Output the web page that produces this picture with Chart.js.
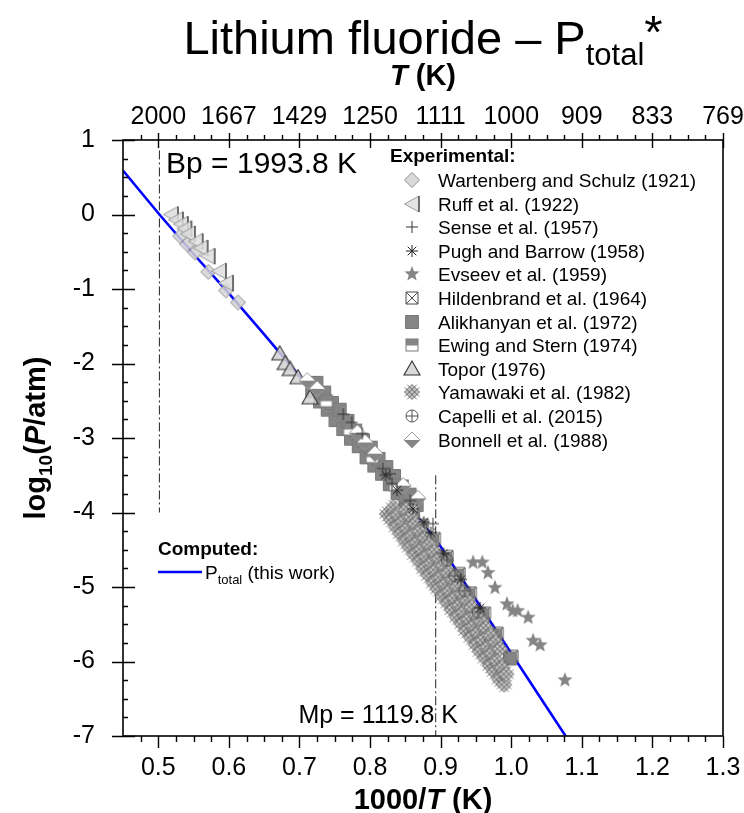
<!DOCTYPE html>
<html>
<head>
<meta charset="utf-8">
<script src="https://cdn.jsdelivr.net/npm/chart.js@4.4.1/dist/chart.umd.min.js"></script>
<style>
  html, body { margin: 0; padding: 0; background: #fff; }
  #wrap { width: 744px; height: 813px; }
</style>
</head>
<body>
<div id="wrap"><canvas id="c" width="744" height="813"></canvas></div>
<script>
// ---- axes ----
const invTTicks = [0.5, 0.6, 0.7, 0.8, 0.9, 1.0, 1.1, 1.2, 1.3];
const invTTickLabels = ['0.5', '0.6', '0.7', '0.8', '0.9', '1.0', '1.1', '1.2', '1.3'];
const tempTickLabels = ['2000', '1667', '1429', '1250', '1111', '1000', '909', '833', '769'];
const logPTicks = [1, 0, -1, -2, -3, -4, -5, -6, -7];

// ---- phase transitions (K) ----
const boilingPointK = 1993.8;
const meltingPointK = 1119.8;

// ---- computed total pressure ----
const computedInvT = [0.45, 0.5016, 0.55, 0.60, 0.65, 0.70, 0.75, 0.80, 0.85, 0.893, 0.95, 1.00, 1.05, 1.077];
const computedLogP = [0.59, 0.00, -0.53, -1.06, -1.61, -2.17, -2.74, -3.31, -3.87, -4.36, -5.17, -5.89, -6.61, -7.00];

// ---- experimental series: 1000/T and log10(P/atm) ----
const wartenbergInvT = [0.531, 0.541, 0.552, 0.571, 0.596, 0.613];
const wartenbergLogP = [-0.29, -0.40, -0.51, -0.77, -1.02, -1.18];

const ruffInvT = [0.518, 0.525, 0.532, 0.537, 0.542, 0.553, 0.560, 0.570, 0.586, 0.596];
const ruffLogP = [0.00, -0.07, -0.13, -0.19, -0.26, -0.36, -0.45, -0.56, -0.76, -0.92];

const senseInvT = [0.762, 0.774, 0.789, 0.818, 0.828, 0.831, 0.857, 0.889];
const senseLogP = [-2.68, -2.79, -2.94, -3.41, -3.48, -3.61, -3.84, -4.15];

const pughInvT = [0.822, 0.838, 0.861, 0.876, 0.886, 0.904, 0.929, 0.956];
const pughLogP = [-3.50, -3.70, -3.95, -4.13, -4.27, -4.55, -4.90, -5.28];

const evseevInvT = [0.946, 0.959, 0.967, 0.977, 0.994, 1.002, 1.009, 1.024, 1.031, 1.041, 1.076];
const evseevLogP = [-4.67, -4.67, -4.81, -5.01, -5.23, -5.32, -5.32, -5.41, -5.72, -5.78, -6.25];

const hildenbrandInvT = [0.781, 0.832, 0.874, 0.891, 0.909, 0.926, 0.942, 0.962, 0.980, 1.001];
const hildenbrandLogP = [-3.01, -3.57, -4.17, -4.35, -4.59, -4.82, -5.08, -5.35, -5.62, -5.93];

const alikhanyanInvT = [0.718, 0.724, 0.729, 0.735, 0.740, 0.746, 0.751, 0.757, 0.762, 0.768,
                        0.773, 0.779, 0.784, 0.790, 0.795, 0.801, 0.806, 0.812, 0.817, 0.823,
                        0.828, 0.834, 0.839, 0.845, 0.850, 0.856, 0.861, 0.866,
                        0.871, 0.888, 0.906, 0.923, 0.939, 0.959, 0.977, 0.998];
const alikhanyanLogP = [-2.37, -2.26, -2.51, -2.39, -2.62, -2.53, -2.76, -2.62, -2.88, -2.77,
                        -3.01, -2.90, -3.11, -3.03, -3.26, -3.13, -3.37, -3.28, -3.48, -3.39,
                        -3.62, -3.51, -3.74, -3.65, -3.85, -3.76, -3.99, -3.90,
                        -4.20, -4.38, -4.62, -4.85, -5.11, -5.38, -5.65, -5.96];

const ewingInvT = [0.738, 0.771, 0.803, 0.836, 0.858];
const ewingLogP = [-2.50, -2.88, -3.25, -3.63, -3.90];

const toporInvT = [0.672, 0.680, 0.687, 0.698, 0.715];
const toporLogP = [-1.87, -2.00, -2.08, -2.19, -2.46];

const yamawakiInvT = [0.824, 0.830, 0.837, 0.843, 0.850, 0.856, 0.863, 0.870, 0.876, 0.883,
                      0.890, 0.896, 0.903, 0.910, 0.916, 0.923, 0.930, 0.936, 0.943, 0.950,
                      0.956, 0.963, 0.970, 0.976, 0.983, 0.990,
                      0.833, 0.840, 0.847, 0.853, 0.860, 0.867, 0.873, 0.880, 0.887, 0.893,
                      0.900, 0.907, 0.913, 0.920, 0.927, 0.933, 0.940, 0.947, 0.953, 0.960,
                      0.967, 0.973, 0.980, 0.987, 0.993,
                      0.851, 0.858, 0.864, 0.871, 0.878, 0.884, 0.891, 0.898, 0.904, 0.911,
                      0.918, 0.924, 0.931, 0.938, 0.944, 0.951, 0.958, 0.964, 0.971, 0.978,
                      0.984];
const yamawakiLogP = [-4.02, -4.10, -4.20, -4.29, -4.39, -4.47, -4.57, -4.66, -4.76, -4.85,
                      -4.95, -5.03, -5.13, -5.22, -5.31, -5.41, -5.50, -5.59, -5.68, -5.78,
                      -5.87, -5.96, -6.06, -6.14, -6.24, -6.31,
                      -3.93, -4.03, -4.12, -4.21, -4.31, -4.40, -4.49, -4.59, -4.68, -4.77,
                      -4.87, -4.96, -5.05, -5.15, -5.24, -5.33, -5.43, -5.52, -5.61, -5.71,
                      -5.80, -5.89, -5.99, -6.08, -6.17,
                      -3.96, -4.06, -4.15, -4.25, -4.34, -4.43, -4.53, -4.62, -4.71, -4.81,
                      -4.90, -4.99, -5.09, -5.18, -5.27, -5.37, -5.46, -5.55, -5.65, -5.74,
                      -5.83];

const capelliInvT = [0.909, 0.920, 0.934, 0.953];
const capelliLogP = [-4.64, -4.85, -5.05, -5.34];

const bonnellInvT = [0.711, 0.725, 0.782, 0.793, 0.807, 0.847, 0.868];
const bonnellLogP = [-2.23, -2.34, -2.93, -3.06, -3.21, -3.64, -3.81];

const sourceNames = [
  'Wartenberg and Schulz (1921)', 'Ruff et al. (1922)', 'Sense et al. (1957)',
  'Pugh and Barrow (1958)', 'Evseev et al. (1959)', 'Hildenbrand et al. (1964)',
  'Alikhanyan et al. (1972)', 'Ewing and Stern (1974)', 'Topor (1976)',
  'Yamawaki et al. (1982)', 'Capelli et al. (2015)', 'Bonnell et al. (1988)'
];

const FAM = '"Liberation Sans", Arial, Helvetica, sans-serif';

function pts(xs, ys) { return xs.map((x, i) => ({ x: x, y: ys[i] })); }

// ---- marker glyphs ----
function glyph(size, paint) {
  const c = document.createElement('canvas');
  c.width = size; c.height = size;
  const g = c.getContext('2d');
  g.translate(size / 2, size / 2);
  paint(g);
  return c;
}
function poly(g, p) {
  g.beginPath();
  g.moveTo(p[0][0], p[0][1]);
  for (let i = 1; i < p.length; i++) g.lineTo(p[i][0], p[i][1]);
  g.closePath();
}
const GREY = '#858585';

const glyphs = [
  // Wartenberg: light diamond
  glyph(18, g => {
    poly(g, [[0, -7.5], [7.5, 0], [0, 7.5], [-7.5, 0]]);
    g.fillStyle = 'rgba(212,212,212,0.85)'; g.fill();
    g.strokeStyle = '#8c8c8c'; g.lineWidth = 1; g.stroke();
  }),
  // Ruff: left-pointing triangle
  glyph(20, g => {
    poly(g, [[-7.5, 0], [7, -8], [7, 8]]);
    g.fillStyle = 'rgba(222,222,222,0.85)'; g.fill();
    g.strokeStyle = '#9a9a9a'; g.lineWidth = 1; g.stroke();
    g.beginPath(); g.moveTo(7, -8); g.lineTo(7, 8);
    g.strokeStyle = '#333'; g.lineWidth = 1.2; g.stroke();
  }),
  // Sense: plus
  glyph(14, g => {
    g.beginPath(); g.moveTo(-6, 0); g.lineTo(6, 0); g.moveTo(0, -6); g.lineTo(0, 6);
    g.strokeStyle = '#333'; g.lineWidth = 1; g.stroke();
  }),
  // Pugh: asterisk
  glyph(14, g => {
    g.beginPath();
    g.moveTo(-6, 0); g.lineTo(6, 0); g.moveTo(0, -6); g.lineTo(0, 6);
    g.moveTo(-4.3, -4.3); g.lineTo(4.3, 4.3); g.moveTo(-4.3, 4.3); g.lineTo(4.3, -4.3);
    g.strokeStyle = '#222'; g.lineWidth = 1; g.stroke();
  }),
  // Evseev: filled star
  glyph(18, g => {
    const p = [];
    for (let k = 0; k < 10; k++) {
      const r = k % 2 ? 3.4 : 8;
      const a = -Math.PI / 2 + k * Math.PI / 5;
      p.push([r * Math.cos(a), r * Math.sin(a)]);
    }
    poly(g, p); g.fillStyle = GREY; g.fill();
  }),
  // Hildenbrand: boxed X
  glyph(16, g => {
    g.beginPath(); g.rect(-6, -6, 12, 12);
    g.moveTo(-6, -6); g.lineTo(6, 6); g.moveTo(-6, 6); g.lineTo(6, -6);
    g.strokeStyle = '#4a4a4a'; g.lineWidth = 1; g.stroke();
  }),
  // Alikhanyan: filled square
  glyph(16, g => {
    g.beginPath(); g.rect(-6.5, -6.5, 13, 13);
    g.fillStyle = GREY; g.fill(); g.strokeStyle = '#7a7a7a'; g.lineWidth = 1; g.stroke();
  }),
  // Ewing and Stern: half-filled square
  glyph(16, g => {
    g.fillStyle = '#fff'; g.fillRect(-6, -6, 12, 12);
    g.fillStyle = GREY; g.fillRect(-6, -6, 12, 6.5);
    g.strokeStyle = '#7a7a7a'; g.lineWidth = 1; g.strokeRect(-6, -6, 12, 12);
  }),
  // Topor: up triangle
  glyph(18, g => {
    poly(g, [[0, -8], [8, 6], [-8, 6]]);
    g.fillStyle = 'rgba(210,210,210,0.85)'; g.fill();
    g.strokeStyle = '#333'; g.lineWidth = 1.1; g.stroke();
  }),
  // Yamawaki: cross-hatched diamond
  glyph(22, g => {
    poly(g, [[0, -7.5], [7.5, 0], [0, 7.5], [-7.5, 0]]);
    g.fillStyle = '#c2c2c2'; g.fill();
    g.strokeStyle = '#707070'; g.lineWidth = 1; g.stroke();
    g.save(); g.rotate(Math.PI / 4);
    g.beginPath();
    for (const u of [-1.8, 1.8]) {
      g.moveTo(u, -8.5); g.lineTo(u, 8.5);
      g.moveTo(-8.5, u); g.lineTo(8.5, u);
    }
    g.strokeStyle = '#4a4a4a'; g.lineWidth = 0.7; g.stroke();
    g.restore();
  }),
  // Capelli: circled plus
  glyph(16, g => {
    g.beginPath(); g.arc(0, 0, 6, 0, Math.PI * 2);
    g.moveTo(-6, 0); g.lineTo(6, 0); g.moveTo(0, -6); g.lineTo(0, 6);
    g.strokeStyle = '#555'; g.lineWidth = 1; g.stroke();
  }),
  // Bonnell: diamond, white top / grey bottom
  glyph(18, g => {
    poly(g, [[-8, 0], [0, -8], [8, 0]]); g.fillStyle = '#fff'; g.fill();
    poly(g, [[-8, 0], [8, 0], [0, 8]]); g.fillStyle = GREY; g.fill();
    poly(g, [[0, -8], [8, 0], [0, 8], [-8, 0]]);
    g.strokeStyle = '#9a9a9a'; g.lineWidth = 1; g.stroke();
  })
];

const seriesInvT = [wartenbergInvT, ruffInvT, senseInvT, pughInvT, evseevInvT, hildenbrandInvT,
                    alikhanyanInvT, ewingInvT, toporInvT, yamawakiInvT, capelliInvT, bonnellInvT];
const seriesLogP = [wartenbergLogP, ruffLogP, senseLogP, pughLogP, evseevLogP, hildenbrandLogP,
                    alikhanyanLogP, ewingLogP, toporLogP, yamawakiLogP, capelliLogP, bonnellLogP];
// stacking: lower order is painted later (on top)
const seriesOrder = [12, 11, 1, 1, 8, 7, 6, 5, 4, 3, 2, 2];

const datasets = [];
datasets.push({
  label: 'Ptotal (this work)', data: pts(computedInvT, computedLogP),
  showLine: true, borderColor: '#0000ff', borderWidth: 2.6, pointRadius: 0, order: 30
});
const bpX = 1000 / boilingPointK, mpX = 1000 / meltingPointK;
datasets.push({
  label: 'Bp', data: [{ x: bpX, y: 0.86 }, { x: bpX, y: -4.0 }],
  showLine: true, borderColor: '#222', borderWidth: 1, borderDash: [9, 3, 2, 3], pointRadius: 0, order: 31
});
datasets.push({
  label: 'Mp', data: [{ x: mpX, y: -3.5 }, { x: mpX, y: -7 }],
  showLine: true, borderColor: '#222', borderWidth: 1, borderDash: [9, 3, 2, 3], pointRadius: 0, order: 31
});
sourceNames.forEach((name, i) => {
  datasets.push({
    label: name, data: pts(seriesInvT[i], seriesLogP[i]),
    pointStyle: glyphs[i], pointRadius: 7, pointHoverRadius: 7, showLine: false, order: seriesOrder[i]
  });
});

// ---- text helpers ----
function rich(ctx, parts, x, y, align) {
  let w = 0;
  const ws = parts.map(p => { ctx.font = p[1]; const m = ctx.measureText(p[0]).width; w += m; return m; });
  let cx = align === 'center' ? x - w / 2 : (align === 'right' ? x - w : x);
  ctx.textAlign = 'left'; ctx.textBaseline = 'alphabetic';
  parts.forEach((p, i) => { ctx.font = p[1]; ctx.fillText(p[0], cx, y + (p[2] || 0)); cx += ws[i]; });
}

const decor = {
  id: 'decor',
  afterDraw(chart) {
    const { ctx, chartArea: a, scales } = chart;
    const sx = scales.x, sy = scales.y;
    ctx.save();
    ctx.strokeStyle = '#000';
    ctx.lineWidth = 1.6;
    ctx.strokeRect(a.left, a.top, a.right - a.left, a.bottom - a.top);

    // tick marks
    ctx.beginPath();
    ctx.lineWidth = 1.4;
    for (let k = 0; k <= 34; k++) {
      const v = Math.round((0.45 + k * 0.025) * 1000) / 1000;
      const px = Math.round(sx.getPixelForValue(v)) + 0.5;
      const major = invTTicks.some(t => Math.abs(t - v) < 1e-6);
      if ((v <= 0.45 || v >= 1.3 - 1e-9) && !major) continue;
      ctx.moveTo(px, a.bottom); ctx.lineTo(px, a.bottom + (major ? 12 : 6));
      if (major) { ctx.moveTo(px, a.top - 7); ctx.lineTo(px, a.top + 8); }
      else { ctx.moveTo(px, a.top - 5); ctx.lineTo(px, a.top); }
    }
    for (let k = 0; k <= 32; k++) {
      const v = 1 - k * 0.25;
      const py = Math.round(sy.getPixelForValue(v)) + 0.5;
      const major = Math.abs(v - Math.round(v)) < 1e-9;
      if (major) { ctx.moveTo(a.left - 11, py); ctx.lineTo(a.left + 12, py); }
      else { ctx.moveTo(a.left, py); ctx.lineTo(a.left + 5, py); }
    }
    ctx.stroke();

    ctx.fillStyle = '#000';
    const cx = (a.left + a.right) / 2;

    // chart title
    rich(ctx, [
      ['Lithium fluoride \u2013 P', '47px ' + FAM, 0],
      ['total', '31px ' + FAM, 11],
      ['*', '47px ' + FAM, -6]
    ], cx, 54, 'center');

    // axis titles
    rich(ctx, [['T', 'italic bold 29px ' + FAM, 0], [' (K)', 'bold 29px ' + FAM, 0]], cx, 85, 'center');
    rich(ctx, [['1000/', 'bold 29px ' + FAM, 0], ['T', 'italic bold 29px ' + FAM, 0], [' (K)', 'bold 29px ' + FAM, 0]], cx, 809, 'center');
    ctx.save();
    ctx.translate(45, (a.top + a.bottom) / 2);
    ctx.rotate(-Math.PI / 2);
    rich(ctx, [
      ['log', 'bold 29px ' + FAM, 0], ['10', 'bold 19px ' + FAM, 7],
      ['(', 'bold 29px ' + FAM, 0], ['P', 'italic bold 29px ' + FAM, 0], ['/atm)', 'bold 29px ' + FAM, 0]
    ], 0, 0, 'center');
    ctx.restore();

    // phase-transition labels
    ctx.textBaseline = 'alphabetic';
    ctx.font = '30px ' + FAM;
    ctx.textAlign = 'left';
    ctx.fillText('Bp = ' + boilingPointK + ' K', sx.getPixelForValue(0.511), sy.getPixelForValue(0.56));
    ctx.font = '25px ' + FAM;
    ctx.textAlign = 'right';
    ctx.fillText('Mp = ' + meltingPointK + ' K', sx.getPixelForValue(0.9246), sy.getPixelForValue(-6.83));

    // legend: experimental
    ctx.textAlign = 'left';
    ctx.font = 'bold 19px ' + FAM;
    ctx.fillText('Experimental:', 390, 162);
    ctx.font = '19px ' + FAM;
    sourceNames.forEach((name, i) => {
      const yy = 180 + i * 23.6;
      const gl = glyphs[i];
      ctx.drawImage(gl, Math.round(411.5 - gl.width / 2), Math.round(yy - gl.height / 2));
      ctx.fillText(name, 438, yy + 7);
    });

    // legend: computed
    ctx.font = 'bold 19px ' + FAM;
    ctx.fillText('Computed:', 158, 555);
    ctx.beginPath(); ctx.moveTo(158, 572); ctx.lineTo(202, 572);
    ctx.strokeStyle = '#0000ff'; ctx.lineWidth = 2.6; ctx.stroke();
    rich(ctx, [['P', '19px ' + FAM, 0], ['total', '13px ' + FAM, 5], [' (this work)', '19px ' + FAM, 0]], 205, 579, 'left');
    ctx.restore();
  }
};

const tickFont = { family: FAM, size: 25 };
function fixTicks(values) { return s => { s.ticks = values.map(v => ({ value: v })); }; }

new Chart(document.getElementById('c'), {
  type: 'scatter',
  data: { datasets: datasets },
  options: {
    responsive: false,
    animation: false,
    events: [],
    layout: { padding: { left: 0, right: 21, top: 0, bottom: 0 } },
    plugins: { legend: { display: false }, tooltip: { enabled: false }, title: { display: false } },
    scales: {
      x: {
        type: 'linear', position: 'bottom', min: 0.45, max: 1.3,
        afterBuildTicks: fixTicks(invTTicks),
        afterFit: s => { s.height = 77; s.paddingLeft = 0; s.paddingRight = 0; },
        ticks: { font: tickFont, color: '#000', padding: 9, maxRotation: 0, autoSkip: false,
                 callback: (v, i) => invTTickLabels[i] },
        grid: { display: false }, border: { display: false }
      },
      xTop: {
        type: 'linear', position: 'top', min: 0.45, max: 1.3,
        afterBuildTicks: fixTicks(invTTicks),
        afterFit: s => { s.height = 140; s.paddingLeft = 0; s.paddingRight = 0; },
        ticks: { font: tickFont, color: '#000', padding: 0, maxRotation: 0, autoSkip: false,
                 callback: (v, i) => tempTickLabels[i] },
        grid: { display: false }, border: { display: false }
      },
      y: {
        type: 'linear', position: 'left', min: -7, max: 1,
        afterBuildTicks: fixTicks(logPTicks),
        afterFit: s => { s.width = 123; s.paddingTop = 0; s.paddingBottom = 0; },
        ticks: { font: tickFont, color: '#000', padding: 20, autoSkip: false,
                 callback: v => String(v) },
        grid: { display: false }, border: { display: false }
      }
    }
  },
  plugins: [decor]
});
</script>
</body>
</html>
